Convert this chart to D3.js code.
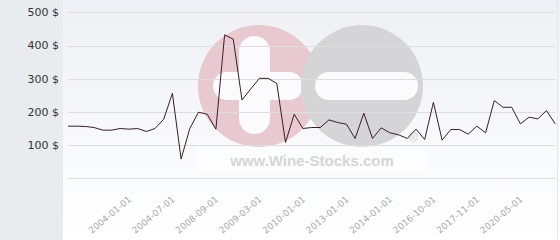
<!DOCTYPE html>
<meta charset="utf-8">
<style>
body { margin: 0; background: #fff; }
svg { display: block; font-family: "DejaVu Sans", sans-serif; }
</style>
<svg id="chart" width="560" height="240"></svg>
<script src="https://d3js.org/d3.v7.min.js"></script>
<script>

// price per point
var prices = [157, 157, 156, 153, 145, 145, 150, 148, 150, 141,
              150, 178, 256, 58, 150, 199, 193, 148, 432, 419,
              236, 269, 301, 301, 286, 108, 193, 150, 153, 153,
              176, 168, 163, 120, 196, 120, 152, 137, 131, 120,
              148, 117, 229, 115, 147, 147, 133, 157, 137, 234,
              214, 214, 164, 184, 179, 204, 164];
// labelled dates and the point they sit under
var tickLabels = ["2004-01-01", "2004-07-01", "2008-09-01", "2009-03-01", "2010-01-01",
                  "2013-01-01", "2014-01-01", "2016-10-01", "2017-11-01", "2020-05-01"];
var tickIndex = [7, 12, 17, 22, 27, 32, 37, 42, 47, 52];
var yTicks = [0, 100, 200, 300, 400, 500];

var svg = d3.select("#chart");
var W = 560, H = 240;
var plotLeft = 68, plotRight = 555.2, plotTop = 12.3, plotBottom = 178.3;

var x = d3.scalePoint().domain(d3.range(prices.length)).range([plotLeft, plotRight]);
var y = d3.scaleLinear().domain([0, 500]).range([plotBottom, plotTop]);

// background
var grad = svg.append("defs").append("linearGradient")
    .attr("id", "bg").attr("x1", 0).attr("y1", 0).attr("x2", 0).attr("y2", 1);
grad.append("stop").attr("offset", "0%").attr("stop-color", "#eef0f5");
grad.append("stop").attr("offset", "100%").attr("stop-color", "#ffffff");

svg.append("rect").attr("width", W).attr("height", H).attr("fill", "url(#bg)");
svg.append("rect").attr("width", 63).attr("height", H).attr("fill", "#e8ecef");
svg.append("rect").attr("x", 557).attr("width", 1).attr("height", H).attr("fill", "#e4e6ea");

// watermark logo
var wm = svg.append("g");
wm.append("circle").attr("cx", 259).attr("cy", 86).attr("r", 61).attr("fill", "#e8c9d0");
wm.append("rect").attr("x", 239).attr("y", 36).attr("width", 31).attr("height", 98)
    .attr("rx", 15.5).attr("fill", "#fbfbfd");
wm.append("rect").attr("x", 213).attr("y", 72).attr("width", 90).attr("height", 28)
    .attr("rx", 14).attr("fill", "#fbfbfd");
wm.append("circle").attr("cx", 362).attr("cy", 86).attr("r", 61).attr("fill", "#d5d5d7");
wm.append("rect").attr("x", 315).attr("y", 72).attr("width", 103).attr("height", 28)
    .attr("rx", 14).attr("fill", "#fbfbfd");
wm.append("rect").attr("x", 197).attr("y", 147).attr("width", 230).attr("height", 26)
    .attr("fill", "#ffffff").attr("opacity", 0.5);
wm.append("text").attr("x", 312).attr("y", 166).attr("text-anchor", "middle")
    .attr("font-family", "'Liberation Sans', Arial, sans-serif")
    .attr("font-weight", "bold").attr("font-size", 15).attr("fill", "#d6d6d6")
    .text("www.Wine-Stocks.com");
wm.append("text").attr("x", 413).attr("y", 142).attr("text-anchor", "middle")
    .attr("font-family", "'Liberation Sans', Arial, sans-serif")
    .attr("font-size", 13).attr("fill", "#cfcfcf").text("\u00ae");

// grid
svg.append("g").selectAll("line").data(yTicks).enter().append("line")
    .attr("x1", plotLeft).attr("x2", plotRight)
    .attr("y1", function(d) { return Math.round(y(d)) + 0.5; })
    .attr("y2", function(d) { return Math.round(y(d)) + 0.5; })
    .attr("stroke", "#dddddd").attr("stroke-width", 1);

// y labels
svg.append("g").selectAll("text").data(yTicks.filter(function(d) { return d > 0; }))
  .enter().append("text")
    .attr("x", 59).attr("y", function(d) { return y(d); })
    .attr("dy", "0.35em").attr("text-anchor", "end")
    .attr("font-size", 11).attr("fill", "#333")
    .text(function(d) { return d + " $"; });

// x labels
svg.append("g").selectAll("text").data(tickIndex).enter().append("text")
    .attr("transform", function(d) { return "translate(" + (x(d) + 1) + ",198) rotate(-40)"; })
    .attr("text-anchor", "end").attr("dy", "0.35em")
    .attr("font-size", 9).attr("fill", "#aaa")
    .text(function(d, i) { return tickLabels[i]; });

// price line
var line = d3.line()
    .x(function(d, i) { return x(i); })
    .y(function(d) { return y(d); });

svg.append("path").datum(prices)
    .attr("d", line)
    .attr("fill", "none")
    .attr("stroke", "#3a1c28")
    .attr("stroke-width", 1);

</script>
